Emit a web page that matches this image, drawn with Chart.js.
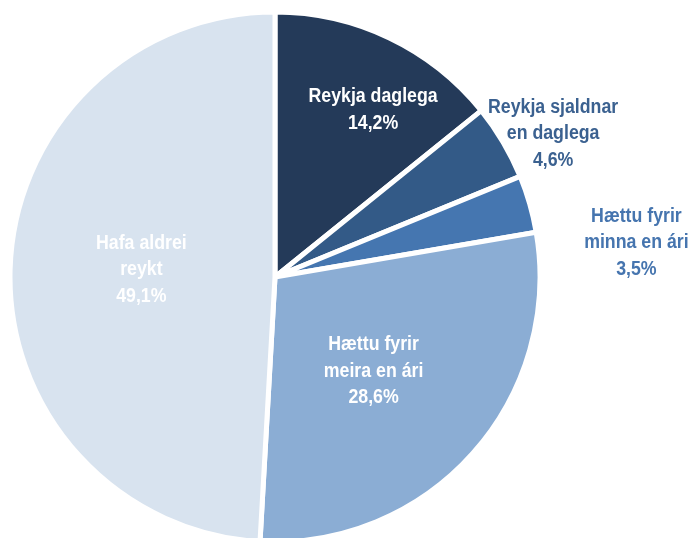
<!DOCTYPE html>
<html>
<head>
<meta charset="utf-8">
<script src="https://cdn.jsdelivr.net/npm/chart.js@4"></script>
<style>
  html, body { margin: 0; padding: 0; background: #fff; }
  #wrap { width: 693px; height: 538px; position: relative; }
</style>
</head>
<body>
<div id="wrap"><canvas id="pie"></canvas></div>
<script>
// data
const categories = [
    ['Reykja daglega'],
    ['Reykja sjaldnar', 'en daglega'],
    ['Hættu fyrir', 'minna en ári'],
    ['Hættu fyrir', 'meira en ári'],
    ['Hafa aldrei', 'reykt']
];
const shares = [14.2, 4.6, 3.5, 28.6, 49.1];

// look
const sliceColors = ['#243a59', '#335a87', '#4576b0', '#8badd4', '#d8e3ef'];
const labelColors = ['#ffffff', '#3b6190', '#4675af', '#ffffff', '#ffffff'];
// where each label sits: fraction of radius, angle shift (deg)
const labelFrac = [0.73, 1.18, 1.37, 0.515, 0.505];
const labelShift = [4.9, 3.4, 10.6, 2.0, 1.4];
const lineHeight = 26.5;
const squeeze = 0.91;

const pieLabels = {
    id: 'pieLabels',
    afterDatasetsDraw(chart) {
        const ctx = chart.ctx;
        const arcs = chart.getDatasetMeta(0).data;
        arcs.forEach((arc, i) => {
            const p = arc.getProps(['x', 'y', 'startAngle', 'endAngle', 'outerRadius'], true);
            const mid = (p.startAngle + p.endAngle) / 2 + labelShift[i] * Math.PI / 180;
            const r = p.outerRadius * labelFrac[i];
            const cx = p.x + Math.cos(mid) * r;
            const cy = p.y + Math.sin(mid) * r;
            const lines = categories[i].concat([shares[i].toFixed(1).replace('.', ',') + '%']);
            const top = cy - (lines.length - 1) * lineHeight / 2;
            ctx.save();
            ctx.translate(cx, 0);
            ctx.scale(squeeze, 1);
            ctx.font = 'bold 19.5px "Liberation Sans", Arial, sans-serif';
            ctx.textAlign = 'center';
            ctx.textBaseline = 'middle';
            ctx.fillStyle = labelColors[i];
            lines.forEach((t, k) => ctx.fillText(t, 0, top + k * lineHeight));
            ctx.restore();
        });
    }
};

new Chart(document.getElementById('pie'), {
    type: 'pie',
    data: {
        labels: categories.map(c => c.join(' ')),
        datasets: [{
            data: shares,
            backgroundColor: sliceColors,
            borderColor: '#ffffff',
            borderWidth: 5
        }]
    },
    options: {
        responsive: true,
        maintainAspectRatio: false,
        animation: false,
        radius: 265,
        layout: { padding: { left: 0, right: 143, top: 16, bottom: 0 } },
        plugins: {
            legend: { display: false },
            tooltip: { enabled: false }
        }
    },
    plugins: [pieLabels]
});
</script>
</body>
</html>
